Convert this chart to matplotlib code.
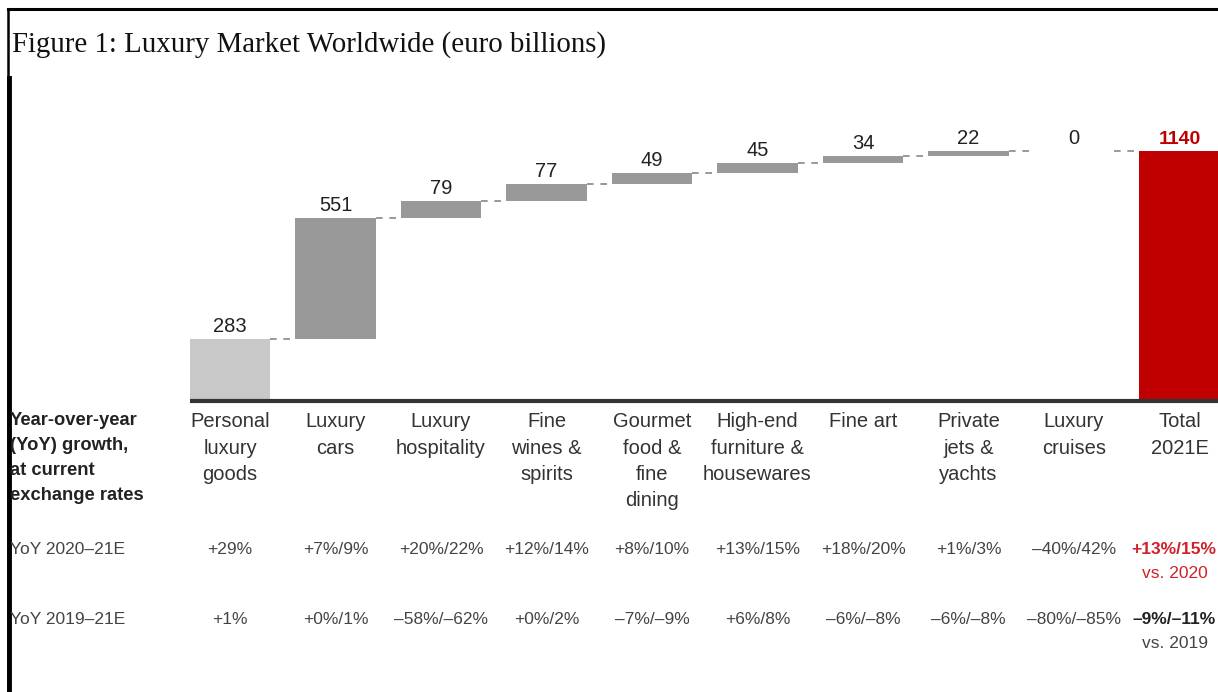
import matplotlib.pyplot as plt
from matplotlib.transforms import blended_transform_factory
from matplotlib.lines import Line2D

# waterfall data (euro billions)
categories = ["Personal\nluxury\ngoods", "Luxury\ncars", "Luxury\nhospitality",
              "Fine\nwines &\nspirits", "Gourmet\nfood &\nfine\ndining",
              "High-end\nfurniture &\nhousewares", "Fine art", "Private\njets &\nyachts",
              "Luxury\ncruises", "Total\n2021E"]
values = [283, 551, 79, 77, 49, 45, 34, 22, 0]
total = 1140

yoy_2020 = ["+29%", "+7%/9%", "+20%/22%", "+12%/14%", "+8%/10%", "+13%/15%",
            "+18%/20%", "+1%/3%", "\u201340%/42%", "+13%/15%"]
yoy_2019 = ["+1%", "+0%/1%", "\u201358%/\u201362%", "+0%/2%", "\u20137%/\u20139%", "+6%/8%",
            "\u20136%/\u20138%", "\u20136%/\u20138%", "\u201380%/\u201385%", "\u20139%/\u201311%"]

plt.rcParams['font.family'] = ['Liberation Sans', 'DejaVu Sans']

W, H = 1218, 692
fig = plt.figure(figsize=(W / 100, H / 100), dpi=100)

# axes placed in pixel terms: baseline at y=401, top at y=110
x0_px, x1_px = 180, W
y_base, y_top = 401, 110
ax = fig.add_axes([x0_px / W, (H - y_base) / H, (x1_px - x0_px) / W, (y_base - y_top) / H])
pitch = 105.5
ax.set_xlim((x0_px - 230) / pitch, (x1_px - 230) / pitch)
ax.set_ylim(0, (y_base - y_top) / 0.2193)
ax.axis("off")

bw = 0.76
grey = "#999999"
red = "#c00000"

bottom = 0
tops = []
for i, v in enumerate(values):
    color = "#c8c8c8" if i == 0 else grey
    ax.bar(i, v, bw, bottom=bottom, color=color, linewidth=0)
    ax.text(i, bottom + v + 14, str(v), ha="center", va="bottom", fontsize=14.5, color="#222222")
    bottom += v
    tops.append(bottom)

n = len(values)
ax.bar(n, total, bw, color=red, linewidth=0)
ax.text(n, total + 14, str(total), ha="center", va="bottom", fontsize=14,
        color=red, fontweight="bold")

# dashed connectors between bars
for i, t in enumerate(tops):
    ax.plot([i + bw / 2, i + 1 - bw / 2], [t, t], color="#888888", lw=1.2,
            ls=(0, (4, 4)), solid_capstyle="butt")

ax.plot([-bw / 2, ax.get_xlim()[1]], [0, 0], color="#333333", lw=3, clip_on=False,
        solid_capstyle="butt")

# table below the bars
tr = blended_transform_factory(ax.transData, fig.transFigure)


def fy(px):
    return 1 - px / H


for i, c in enumerate(categories):
    fig.text(i, fy(412), c, transform=tr, ha="center", va="top", fontsize=14.5,
             color="#333333", linespacing=1.5)

fig.text(10 / W, fy(412), "Year-over-year\n(YoY) growth,\nat current\nexchange rates",
         ha="left", va="top", fontsize=13.2, fontweight="bold", color="#222222",
         linespacing=1.62)

fig.text(10 / W, fy(550), "YoY 2020\u201321E", ha="left", va="center", fontsize=12.5,
         color="#444444")
fig.text(10 / W, fy(620), "YoY 2019\u201321E", ha="left", va="center", fontsize=12.5,
         color="#444444")

for i in range(n):
    fig.text(i, fy(550), yoy_2020[i], transform=tr, ha="center", va="center",
             fontsize=12.5, color="#444444")
    fig.text(i, fy(620), yoy_2019[i], transform=tr, ha="center", va="center",
             fontsize=12.5, color="#444444")

# total column, kept inside the right edge
x_right = 1216 / W
fig.text(x_right, fy(550), yoy_2020[n], ha="right", va="center",
         fontsize=12.5, color="#d0202a", fontweight="bold")
fig.text(n - 0.04, fy(573), "vs. 2020", transform=tr, ha="center", va="center",
         fontsize=12.5, color="#d0202a")
fig.text(x_right, fy(620), yoy_2019[n], ha="right", va="center",
         fontsize=12.5, color="#222222", fontweight="bold")
fig.text(n - 0.04, fy(643), "vs. 2019", transform=tr, ha="center", va="center",
         fontsize=12.5, color="#444444")

# title and frame
fig.text(12 / W, fy(45), "Figure 1: Luxury Market Worldwide (euro billions)",
         ha="left", va="center", fontsize=20.8, family="Liberation Serif", color="#111111")
fig.add_artist(Line2D([8 / W, 1], [fy(9), fy(9)], color="black", lw=2.2))
fig.add_artist(Line2D([8 / W, 8 / W], [fy(9), 0], color="black", lw=1.8))
fig.add_artist(Line2D([9 / W, 9 / W], [fy(78), 0], color="black", lw=3.5))

fig.savefig("out.png", dpi=100)
